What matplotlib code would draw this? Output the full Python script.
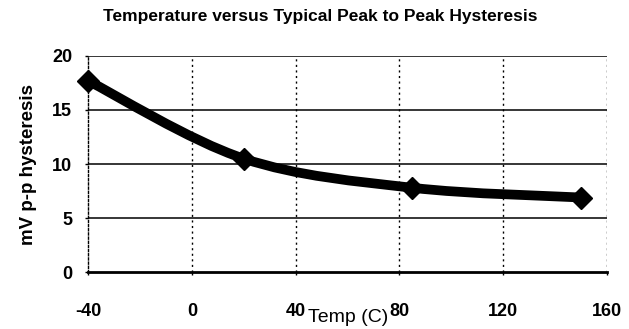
import matplotlib
matplotlib.use("Agg")
import matplotlib.pyplot as plt
from matplotlib.path import Path
from matplotlib.patches import PathPatch
import numpy as np

# typical peak-to-peak hysteresis vs temperature
temps = [-40, 20, 85, 150]
hyst_mv = [17.7, 10.5, 7.8, 6.9]

xticks = [-40, 0, 40, 80, 120, 160]
yticks = [0, 5, 10, 15, 20]

plt.rcParams['font.family'] = ['Liberation Sans', 'DejaVu Sans']
plt.rcParams['axes.unicode_minus'] = False


def smooth_path(xs, ys):
    """Cubic bezier through the points (spreadsheet style smoothed line)."""
    pts = np.column_stack([xs, ys]).astype(float)
    n = len(pts)
    verts = [pts[0]]
    codes = [Path.MOVETO]
    for i in range(n - 1):
        p0 = pts[max(i - 1, 0)]
        p1 = pts[i]
        p2 = pts[i + 1]
        p3 = pts[min(i + 2, n - 1)]
        verts += [p1 + (p2 - p0) / 6.0, p2 - (p3 - p1) / 6.0, p2]
        codes += [Path.CURVE4] * 3
    return Path(verts, codes)


fig = plt.figure(figsize=(6.29, 3.29), dpi=100)
ax = fig.add_axes([0.140, 0.173, 0.825, 0.657])

ax.set_xlim(-40, 160)
ax.set_ylim(0, 20)

# grid: solid horizontals, dotted verticals
for y in yticks[1:]:
    ax.axhline(y, color='black', lw=1.1, zorder=1)
for x in xticks[1:]:
    ax.axvline(x, color='black', lw=1.0, ls=(0, (1.5, 2.5)), zorder=1)

ax.add_patch(PathPatch(smooth_path(temps, hyst_mv), facecolor='none',
                       edgecolor='black', lw=7, capstyle='round', zorder=3))
ax.plot(temps, hyst_mv, ls='none', marker='D', ms=11.5, color='black',
        clip_on=False, zorder=4)

for side in ['top', 'right']:
    ax.spines[side].set_visible(False)
ax.spines['left'].set_linestyle((0, (1.5, 1.5)))
ax.spines['left'].set_linewidth(1.0)
ax.spines['bottom'].set_linewidth(2.0)

ax.set_xticks(xticks)
ax.set_yticks(yticks)
ax.tick_params(axis='both', length=2, width=1, labelsize=13)
ax.tick_params(axis='x', pad=20)
ax.tick_params(axis='y', pad=9.5)
for lab in ax.get_xticklabels() + ax.get_yticklabels():
    lab.set_fontweight('bold')

ax.set_ylabel("mV p-p hysteresis", fontsize=13.5, fontweight='bold', labelpad=11)
fig.text(0.553, 0.022, "Temp (C)", fontsize=14, ha='center', va='baseline')
fig.text(0.509, 0.95, "Temperature versus Typical Peak to Peak Hysteresis",
         fontsize=12.5, fontweight='bold', ha='center', va='center')

fig.savefig("out.png", dpi=100, facecolor='white')
